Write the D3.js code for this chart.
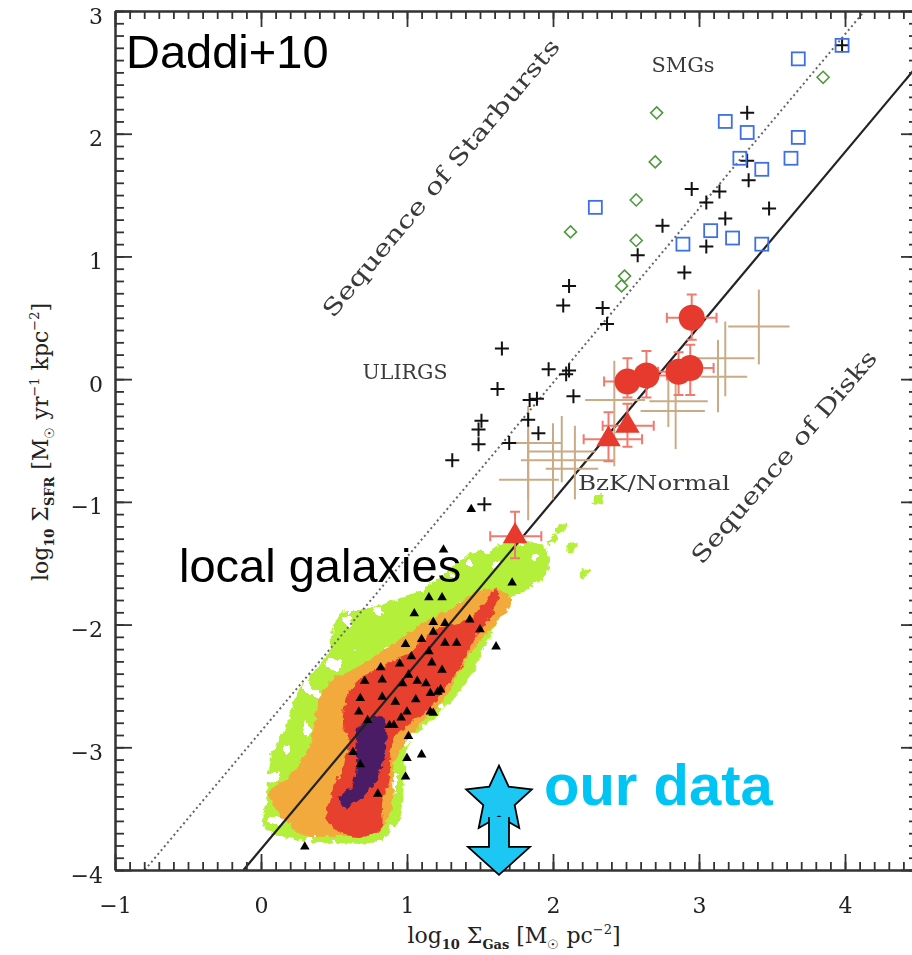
<!DOCTYPE html>
<html>
<head>
<meta charset="utf-8">
<script src="https://cdn.jsdelivr.net/npm/d3@7"></script>
<style>
body { margin: 0; background: #fff; }
</style>
</head>
<body>
<svg id="chart" width="912" height="955"></svg>
<script>
// ---- data ----
var xTicks = [-1, 0, 1, 2, 3, 4];
var yTicks = [-4, -3, -2, -1, 0, 1, 2, 3];

// Daddi+10 fits: log SFR = slope * log Gas + intercept
var fitSlope = 1.42;
var disksIntercept = -3.83;
var starburstIntercept = -2.87;

var smgSquares = [[3.98, 2.72], [3.68, 2.61], [3.18, 2.10], [3.33, 2.01], [3.68, 1.97], [3.28, 1.80],
	[3.43, 1.71], [3.63, 1.80], [2.29, 1.40], [3.08, 1.21], [2.89, 1.10], [3.23, 1.15], [3.43, 1.10]];

var smgDiamonds = [[3.85, 2.46], [2.71, 2.17], [2.70, 1.77], [2.57, 1.46], [2.12, 1.20], [2.57, 1.13],
	[2.49, 0.84], [2.47, 0.76]];

var ulirgCrosses = [[3.98, 2.72], [3.33, 2.17], [3.33, 1.78], [3.34, 1.62], [2.95, 1.55], [3.14, 1.53],
	[3.05, 1.44], [3.48, 1.39], [3.18, 1.31], [2.75, 1.25], [3.05, 1.08], [2.58, 1.01], [2.90, 0.87],
	[2.11, 0.76], [2.07, 0.60], [2.34, 0.58], [2.37, 0.45], [1.65, 0.25], [1.97, 0.08], [2.09, 0.04],
	[2.11, 0.07], [1.62, -0.08], [2.14, -0.14], [1.84, -0.17], [1.89, -0.16], [1.51, -0.34],
	[1.49, -0.41], [1.83, -0.33], [1.90, -0.44], [1.49, -0.53], [1.70, -0.52], [1.31, -0.66],
	[1.53, -1.02]];

var localTriangles = [[1.44, -1.06], [1.25, -1.39], [1.72, -1.66], [1.15, -1.78], [1.24, -1.78],
	[1.05, -1.91], [1.43, -1.96], [1.50, -2.04], [1.61, -2.18], [1.18, -1.98], [1.26, -1.99],
	[1.18, -2.06], [0.99, -2.16], [1.10, -2.12], [1.15, -2.22], [1.26, -2.15], [1.34, -2.15],
	[1.03, -2.26], [1.17, -2.31], [0.82, -2.35], [0.95, -2.32], [1.24, -2.37], [0.71, -2.46],
	[0.83, -2.45], [1.07, -2.46], [1.13, -2.48], [0.97, -2.48], [1.23, -2.53], [0.68, -2.60],
	[0.83, -2.59], [1.06, -2.61], [1.16, -2.56], [1.01, -2.41], [0.92, -2.63], [1.21, -2.55],
	[0.67, -2.71], [0.96, -2.76], [1.00, -2.71], [1.16, -2.71], [1.18, -2.72], [0.73, -2.78],
	[0.88, -2.82], [0.91, -2.82], [1.01, -2.91], [0.63, -3.04], [1.00, -3.09], [1.10, -3.06],
	[0.68, -3.14], [0.99, -3.24], [0.80, -3.38], [0.30, -3.81]];

// [x, y, xlo, xhi, ylo, yhi]
var bzkCircles = [[2.95, 0.50, 2.78, 3.12, 0.32, 0.69], [2.51, -0.02, 2.35, 2.66, -0.15, 0.17],
	[2.64, 0.03, 2.50, 2.78, -0.15, 0.23], [2.86, 0.06, 2.72, 3.00, -0.13, 0.22],
	[2.94, 0.09, 2.80, 3.10, -0.13, 0.28]];

var lowzTriangles = [[2.38, -0.49, 2.21, 2.61, -0.67, -0.27], [2.51, -0.38, 2.34, 2.69, -0.55, -0.20],
	[1.74, -1.28, 1.57, 1.92, -1.46, -1.08]];

var normalCrosses = [[3.41, 0.43, 3.20, 3.62, 0.12, 0.73], [3.18, 0.17, 2.99, 3.38, -0.14, 0.47],
	[3.13, 0.02, 3.01, 3.33, -0.27, 0.32], [2.79, -0.18, 2.66, 3.06, -0.39, 0.08],
	[2.84, -0.26, 2.60, 3.04, -0.57, 0.02], [2.42, -0.17, 2.22, 2.63, -0.71, 0.15],
	[1.83, -0.52, 1.65, 2.06, -0.98, -0.22], [2.06, -0.59, 1.83, 2.29, -0.84, -0.30],
	[2.15, -0.66, 1.78, 2.42, -0.98, -0.38], [2.00, -0.73, 1.95, 2.31, -0.98, -0.36],
	[1.83, -0.82, 1.63, 2.04, -1.15, -0.41]];

// THINGS pixel density levels (outer to inner)
var contourGreen = [[0.01, -3.59], [0.04, -3.43], [0.06, -3.10], [0.16, -2.86], [0.26, -2.53],
	[0.47, -2.21], [0.50, -2.00], [0.60, -1.86], [0.81, -1.84], [1.01, -1.76], [1.22, -1.62],
	[1.42, -1.43], [1.63, -1.35], [1.76, -1.31], [1.94, -1.37], [1.98, -1.51], [1.90, -1.66],
	[1.70, -1.80], [1.56, -2.12], [1.42, -2.45], [1.22, -2.73], [1.03, -2.94], [0.98, -3.26],
	[0.96, -3.55], [0.84, -3.75], [0.50, -3.78], [0.19, -3.74], [0.04, -3.67]];
var contourOrange = [[0.06, -3.37], [0.26, -3.70], [0.42, -3.73], [0.83, -3.65], [0.90, -3.45],
	[0.92, -3.10], [1.08, -2.82], [1.25, -2.61], [1.38, -2.33], [1.51, -2.12], [1.63, -1.96],
	[1.72, -1.80], [1.65, -1.72], [1.51, -1.72], [1.29, -1.88], [1.10, -1.99], [0.88, -2.18],
	[0.67, -2.34], [0.49, -2.45], [0.40, -2.61], [0.33, -3.00], [0.19, -3.24]];
var contourRed = [[0.45, -3.59], [0.56, -3.70], [0.69, -3.73], [0.82, -3.67], [0.83, -3.45],
	[0.88, -3.27], [0.90, -2.94], [0.99, -2.83], [1.13, -2.71], [1.29, -2.48], [1.42, -2.23],
	[1.47, -2.10], [1.56, -1.96], [1.63, -1.77], [1.61, -1.72], [1.51, -1.85], [1.42, -1.96],
	[1.20, -2.04], [1.01, -2.23], [0.83, -2.34], [0.67, -2.45], [0.60, -2.56], [0.56, -2.80],
	[0.60, -2.94], [0.56, -3.16], [0.49, -3.35]];
var contourPurple = [[0.67, -2.83], [0.83, -2.75], [0.86, -2.91], [0.83, -3.16], [0.76, -3.32],
	[0.65, -3.45], [0.56, -3.49], [0.54, -3.40], [0.62, -3.32], [0.65, -3.16], [0.65, -2.94]];
var greenPatches = [[2.31, -0.98], [2.06, -1.21], [2.13, -1.37], [2.22, -1.58], [1.99, -1.30]];

var ourData = [[1.63, -3.43]];
var ourLimitTo = -4.04;

// ---- setup ----
var svg = d3.select("#chart");
var x = d3.scaleLinear().domain([-1, 4.5]).range([115, 918]);
var y = d3.scaleLinear().domain([-4, 3]).range([870, 11]);

var serif = "'DejaVu Serif', 'Liberation Serif', serif";
var sans = "'Liberation Sans', Arial, Helvetica, sans-serif";

var defs = svg.append("defs");
defs.append("clipPath").attr("id", "plotClip")
	.append("rect").attr("x", 115).attr("y", 11).attr("width", 803).attr("height", 859);

// ragged edges of the pixel contours
var rough = defs.append("filter").attr("id", "rough").attr("x", "-5%").attr("y", "-5%")
	.attr("width", "110%").attr("height", "110%");
rough.append("feTurbulence").attr("type", "fractalNoise").attr("baseFrequency", 0.18)
	.attr("numOctaves", 2).attr("seed", 4).attr("result", "noise");
rough.append("feDisplacementMap").attr("in", "SourceGraphic").attr("in2", "noise")
	.attr("scale", 7).attr("xChannelSelector", "R").attr("yChannelSelector", "G");

// white holes in the low density level
var holes = defs.append("filter").attr("id", "holes").attr("x", "0").attr("y", "0")
	.attr("width", "100%").attr("height", "100%");
holes.append("feTurbulence").attr("type", "fractalNoise").attr("baseFrequency", 0.07)
	.attr("numOctaves", 1).attr("seed", 9).attr("result", "n");
holes.append("feColorMatrix").attr("in", "n").attr("type", "matrix")
	.attr("values", "0 0 0 0 0  0 0 0 0 0  0 0 0 0 0  1 0 0 0 0").attr("result", "a");
holes.append("feComponentTransfer").attr("in", "a").attr("result", "m")
	.append("feFuncA").attr("type", "discrete").attr("tableValues", "0 0 0 0 0 0 0 1 1 1 1 1 1 1 1 1 1 1 1 1");
holes.append("feComposite").attr("in", "SourceGraphic").attr("in2", "m").attr("operator", "in");

var plot = svg.append("g").attr("clip-path", "url(#plotClip)");

// ---- contours ----
var area = d3.line().x(function (d) { return x(d[0]); }).y(function (d) { return y(d[1]); })
	.curve(d3.curveCatmullRomClosed.alpha(0.5));
var contours = plot.append("g").attr("filter", "url(#rough)");
var lowLevel = contours.append("g").attr("filter", "url(#holes)");
lowLevel.append("path").attr("d", area(contourGreen)).attr("fill", "#b4f03a");
lowLevel.selectAll("ellipse.patch").data(greenPatches).enter().append("ellipse")
	.attr("cx", function (d) { return x(d[0]); }).attr("cy", function (d) { return y(d[1]); })
	.attr("rx", 7).attr("ry", 3.5).attr("fill", "#b4f03a")
	.attr("transform", function (d) { return "rotate(-40," + x(d[0]) + "," + y(d[1]) + ")"; });
[[contourOrange, "#f3aa3c"], [contourRed, "#e8402f"], [contourPurple, "#4b1a66"]]
	.forEach(function (c) {
		contours.append("path").attr("d", area(c[0])).attr("fill", c[1]);
	});

// ---- fit lines ----
function fitLine(intercept, x0, x1) {
	return [[x0, fitSlope * x0 + intercept], [x1, fitSlope * x1 + intercept]];
}
var straight = d3.line().x(function (d) { return x(d[0]); }).y(function (d) { return y(d[1]); });
plot.append("path").attr("d", straight(fitLine(starburstIntercept, (-4 - starburstIntercept) / fitSlope, (3 - starburstIntercept) / fitSlope)))
	.attr("stroke", "#666").attr("stroke-width", 2).attr("stroke-dasharray", "2,3").attr("fill", "none");
plot.append("path").attr("d", straight(fitLine(disksIntercept, (-4 - disksIntercept) / fitSlope, 4.5)))
	.attr("stroke", "#222").attr("stroke-width", 2.2).attr("fill", "none");

// ---- error crosses ----
function errorBars(g, data, color, width, cap) {
	var e = g.selectAll(null).data(data).enter().append("g")
		.attr("stroke", color).attr("stroke-width", width).attr("fill", "none");
	e.append("line").attr("x1", function (d) { return x(d[2]); }).attr("x2", function (d) { return x(d[3]); })
		.attr("y1", function (d) { return y(d[1]); }).attr("y2", function (d) { return y(d[1]); });
	e.append("line").attr("y1", function (d) { return y(d[4]); }).attr("y2", function (d) { return y(d[5]); })
		.attr("x1", function (d) { return x(d[0]); }).attr("x2", function (d) { return x(d[0]); });
	if (cap) {
		e.append("path").attr("d", function (d) {
			var cx = x(d[0]), cy = y(d[1]);
			return "M" + x(d[2]) + "," + (cy - cap) + "V" + (cy + cap) +
				"M" + x(d[3]) + "," + (cy - cap) + "V" + (cy + cap) +
				"M" + (cx - cap) + "," + y(d[4]) + "H" + (cx + cap) +
				"M" + (cx - cap) + "," + y(d[5]) + "H" + (cx + cap);
		});
	}
}
errorBars(plot, normalCrosses, "#c9ac86", 2, 0);

// ---- local spirals (small black triangles) ----
var triSmall = d3.symbol().type(d3.symbolTriangle).size(40);
plot.selectAll("path.local").data(localTriangles).enter().append("path")
	.attr("d", triSmall).attr("fill", "#000")
	.attr("transform", function (d) { return "translate(" + x(d[0]) + "," + y(d[1]) + ")"; });

// ---- ULIRGs / SMG crosses ----
plot.selectAll("path.plus").data(ulirgCrosses).enter().append("path")
	.attr("d", "M-7,0H7M0,-7V7").attr("stroke", "#111").attr("stroke-width", 2)
	.attr("transform", function (d) { return "translate(" + x(d[0]) + "," + y(d[1]) + ")"; });

plot.selectAll("rect.smg").data(smgSquares).enter().append("rect")
	.attr("x", function (d) { return x(d[0]) - 6.5; }).attr("y", function (d) { return y(d[1]) - 6.5; })
	.attr("width", 13).attr("height", 13).attr("fill", "none")
	.attr("stroke", "#3f6fe6").attr("stroke-width", 1.8);

plot.selectAll("path.dia").data(smgDiamonds).enter().append("path")
	.attr("d", "M0,-6L6,0L0,6L-6,0Z").attr("fill", "none")
	.attr("stroke", "#4f9a3f").attr("stroke-width", 1.6)
	.attr("transform", function (d) { return "translate(" + x(d[0]) + "," + y(d[1]) + ")"; });

// ---- BzK / low-z red points ----
errorBars(plot, bzkCircles, "#f07a6e", 2, 5);
errorBars(plot, lowzTriangles, "#f07a6e", 2, 5);
plot.selectAll("circle.bzk").data(bzkCircles).enter().append("circle")
	.attr("cx", function (d) { return x(d[0]); }).attr("cy", function (d) { return y(d[1]); })
	.attr("r", 13).attr("fill", "#e63a2e");
var triBig = d3.symbol().type(d3.symbolTriangle).size(260);
plot.selectAll("path.lowz").data(lowzTriangles).enter().append("path")
	.attr("d", triBig).attr("fill", "#e63a2e")
	.attr("transform", function (d) { return "translate(" + x(d[0]) + "," + y(d[1]) + ")"; });

// ---- axes ----
var axisStyle = function (g) {
	g.selectAll(".domain").attr("stroke", "#333").attr("stroke-width", 2);
	g.selectAll(".tick line").attr("stroke", "#333").attr("stroke-width", 1.8);
	g.selectAll("text").attr("font-family", serif).attr("font-size", 22).attr("fill", "#222");
};
var minorX = d3.range(-10, 46).map(function (i) { return i / 10; });
var minorY = d3.range(-40, 31).map(function (i) { return i / 10; });

svg.append("g").attr("transform", "translate(0,870)")
	.call(d3.axisBottom(x).tickValues(minorX).tickSize(-8).tickSizeOuter(0).tickFormat("")).call(axisStyle);
svg.append("g").attr("transform", "translate(0,870)")
	.call(d3.axisBottom(x).tickValues(xTicks).tickSize(-16).tickSizeOuter(0).tickPadding(27).tickFormat(d3.format("d")))
	.call(axisStyle);
svg.append("g").attr("transform", "translate(0,11)")
	.call(d3.axisTop(x).tickValues(minorX).tickSize(-8).tickSizeOuter(0).tickFormat("")).call(axisStyle);
svg.append("g").attr("transform", "translate(0,11)")
	.call(d3.axisTop(x).tickValues(xTicks).tickSize(-16).tickSizeOuter(0).tickFormat("")).call(axisStyle);
svg.append("g").attr("transform", "translate(115,0)")
	.call(d3.axisLeft(y).tickValues(minorY).tickSize(-9).tickSizeOuter(0).tickFormat("")).call(axisStyle);
var yAxis = svg.append("g").attr("transform", "translate(115,0)")
	.call(d3.axisLeft(y).tickValues(yTicks).tickSize(-17).tickSizeOuter(0).tickPadding(12).tickFormat(d3.format("d")))
	.call(axisStyle);
yAxis.selectAll("text").attr("dy", "0.55em");
svg.append("g").attr("transform", "translate(918,0)")
	.call(d3.axisRight(y).tickValues(minorY).tickSize(-9).tickSizeOuter(0).tickFormat("")).call(axisStyle);
svg.append("g").attr("transform", "translate(918,0)")
	.call(d3.axisRight(y).tickValues(yTicks).tickSize(-17).tickSizeOuter(0).tickFormat("")).call(axisStyle);

// ---- axis titles ----
function titleText(t, parts) {
	parts.forEach(function (p) {
		t.append("tspan").attr("dy", p[1] || 0).attr("font-size", p[2] || null)
			.attr("font-weight", p[3] || null).text(p[0]);
	});
}
var xt = svg.append("text").attr("x", 514).attr("y", 943).attr("text-anchor", "middle")
	.attr("font-family", serif).attr("font-size", 22).attr("fill", "#222");
titleText(xt, [["log"], ["10", 6, 13, "bold"], [" Σ", -6], ["Gas", 6, 13, "bold"], [" [M", -6], ["☉", 6, 13],
	[" pc", -6], ["−2", -9, 13], ["]", 9]]);
var yt = svg.append("text").attr("transform", "translate(48,442) rotate(-90)").attr("text-anchor", "middle")
	.attr("font-family", serif).attr("font-size", 22).attr("fill", "#222");
titleText(yt, [["log"], ["10", 6, 13, "bold"], [" Σ", -6], ["SFR", 6, 13, "bold"], [" [M", -6], ["☉", 6, 13],
	[" yr", -6], ["−1", -9, 13], [" kpc", 9], ["−2", -9, 13], ["]", 9]]);

// ---- labels ----
function label(txt, cx, cy, rot, len, size) {
	svg.append("text").attr("transform", "translate(" + cx + "," + cy + ") rotate(" + rot + ")")
		.attr("text-anchor", "middle").attr("font-family", serif).attr("font-size", size)
		.attr("fill", "#3a3a3a").attr("textLength", len).attr("lengthAdjust", "spacingAndGlyphs").text(txt);
}
label("Sequence of Starbursts", 447, 183, -50, 355, 23);
label("Sequence of Disks", 790, 462, -49.5, 272, 23);
label("SMGs", 683, 72, 0, 63, 20);
label("ULIRGS", 405, 379, 0, 85, 20);
label("BzK/Normal", 654, 490, 0, 152, 20);

svg.append("text").attr("x", 126).attr("y", 68).attr("font-family", sans).attr("font-size", 47)
	.attr("fill", "#000").text("Daddi+10");
svg.append("text").attr("x", 179).attr("y", 582).attr("font-family", sans).attr("font-size", 47)
	.attr("fill", "#000").text("local galaxies");

// ---- our data: star with upper-limit arrow ----
var ours = svg.append("g");
var starPath = function () {
	var pts = [];
	for (var k = 0; k < 10; k++) {
		var r = k % 2 === 0 ? 34.5 : 16.5;
		var a = -Math.PI / 2 + k * Math.PI / 5;
		pts.push([r * Math.cos(a), r * Math.sin(a)]);
	}
	return "M" + pts.join("L") + "Z";
};
ours.selectAll("path.star").data(ourData).enter().append("path")
	.attr("d", starPath()).attr("fill", "#1cc7f4").attr("stroke", "#000").attr("stroke-width", 1.8)
	.attr("stroke-linejoin", "miter")
	.attr("transform", function (d) { return "translate(" + x(d[0]) + "," + y(d[1]) + ")"; });
ours.selectAll("path.arrow").data(ourData).enter().append("path")
	.attr("d", function (d) {
		var cx = x(d[0]), top = y(d[1]) + 17, tip = y(ourLimitTo), head = tip - 28;
		return "M" + (cx - 10) + "," + top + "V" + head + "H" + (cx - 31) + "L" + cx + "," + tip +
			"L" + (cx + 31) + "," + head + "H" + (cx + 10) + "V" + top;
	})
	.attr("fill", "#1cc7f4").attr("stroke", "#000").attr("stroke-width", 1.8);
svg.append("text").attr("x", 544).attr("y", 805).attr("font-family", sans).attr("font-weight", "bold")
	.attr("font-size", 58).attr("fill", "#00c4f4").text("our data");
</script>
</body>
</html>
